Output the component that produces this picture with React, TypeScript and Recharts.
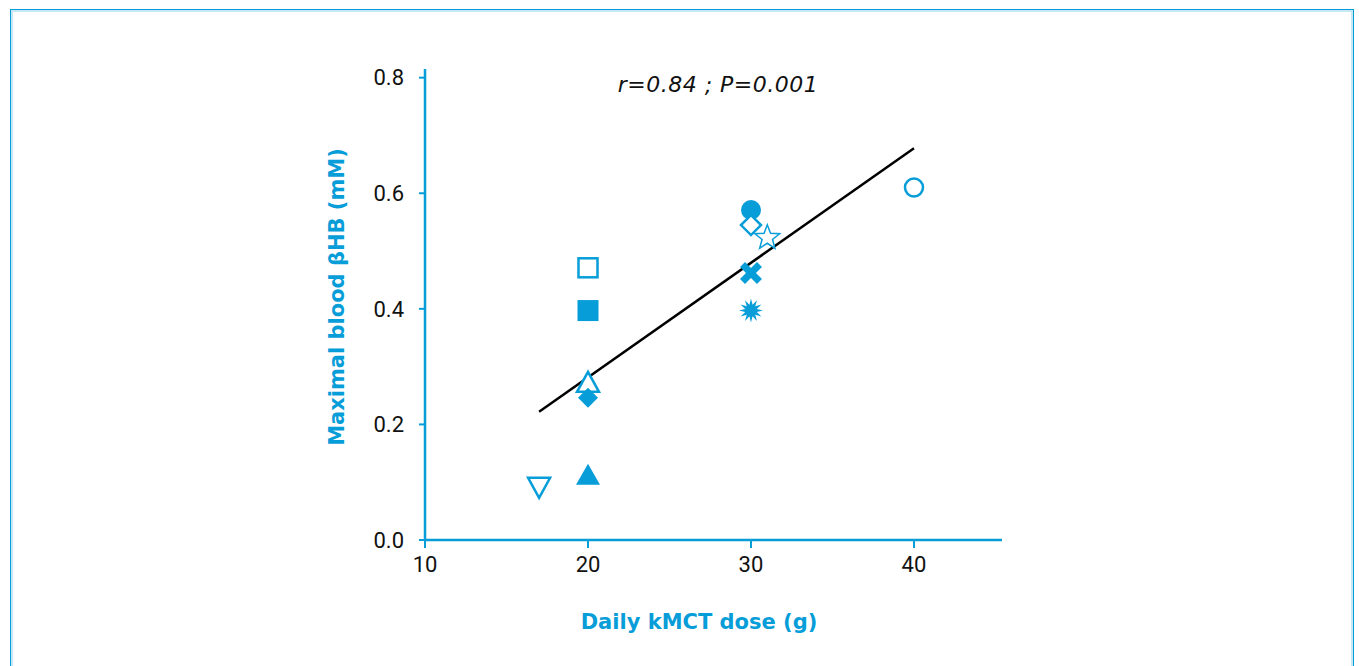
import { Label, Scatter, ScatterChart, XAxis, YAxis } from "recharts";

const BLUE = "#079dd8";
const TITLE_FONT = "'DejaVu Sans', Roboto, sans-serif";

// one entry per subject
const doses = [40, 30, 30, 31, 30, 30, 20, 20, 20, 20, 20, 17];
const bhb = [0.61, 0.571, 0.545, 0.523, 0.462, 0.397, 0.471, 0.397, 0.272, 0.246, 0.113, 0.092];
const markers = [
  "circleOpen",
  "circle",
  "diamondOpen",
  "starOpen",
  "cross",
  "burst",
  "squareOpen",
  "square",
  "triangleOpen",
  "diamond",
  "triangle",
  "triangleDownOpen",
];

// regression line end points
const fitDose = [17, 40];
const fitBhb = [0.222, 0.678];

const xTicks = [10, 20, 30, 40];
const yTicks = [0, 0.2, 0.4, 0.6, 0.8];

const points = doses.map((d, i) => ({ dose: d, bhb: bhb[i], marker: markers[i] }));
const fit = fitDose.map((d, i) => ({ dose: d, bhb: fitBhb[i] }));

const starPath = (cx: number, cy: number, n: number, ro: number, ri: number) => {
  const pts: string[] = [];
  for (let i = 0; i < n * 2; i++) {
    const r = i % 2 === 0 ? ro : ri;
    const a = -Math.PI / 2 + (i * Math.PI) / n;
    pts.push(`${cx + r * Math.cos(a)},${cy + r * Math.sin(a)}`);
  }
  return `M${pts.join("L")}Z`;
};

const Marker = (props: any) => {
  const { cx, cy, payload } = props;
  const open = { fill: "#fff", stroke: BLUE, strokeWidth: 2.5 };
  const solid = { fill: BLUE, stroke: "none" };
  switch (payload.marker) {
    case "circleOpen":
      return <circle cx={cx} cy={cy} r={9} {...open} />;
    case "circle":
      return <circle cx={cx} cy={cy} r={10} {...solid} />;
    case "squareOpen":
      return <rect x={cx - 9.5} y={cy - 9.5} width={19} height={19} {...open} />;
    case "square":
      return <rect x={cx - 10.5} y={cy - 10.5} width={21} height={21} {...solid} />;
    case "diamondOpen":
      return <path d={`M${cx},${cy - 10}L${cx + 10},${cy}L${cx},${cy + 10}L${cx - 10},${cy}Z`} {...open} />;
    case "diamond":
      return <path d={`M${cx},${cy - 10}L${cx + 10},${cy}L${cx},${cy + 10}L${cx - 10},${cy}Z`} {...solid} />;
    case "triangleOpen":
      return <path d={`M${cx},${cy - 11}L${cx + 11},${cy + 9}L${cx - 11},${cy + 9}Z`} {...open} />;
    case "triangle":
      return <path d={`M${cx},${cy - 11}L${cx + 12},${cy + 10}L${cx - 12},${cy + 10}Z`} {...solid} />;
    case "triangleDownOpen":
      return <path d={`M${cx},${cy + 11}L${cx + 11},${cy - 9}L${cx - 11},${cy - 9}Z`} {...open} />;
    case "starOpen":
      return <path d={starPath(cx, cy, 5, 13, 5.5)} fill="#fff" stroke={BLUE} strokeWidth={1.5} />;
    case "burst":
      return <path d={starPath(cx, cy, 12, 12, 6)} {...solid} />;
    case "cross":
      return (
        <g transform={`translate(${cx},${cy}) rotate(45)`}>
          <rect x={-12} y={-3.5} width={24} height={7} {...solid} />
          <rect x={-3.5} y={-12} width={7} height={24} {...solid} />
        </g>
      );
    default:
      return <circle cx={cx} cy={cy} r={8} {...solid} />;
  }
};

const App = () => {
  return (
    <div
      style={{
        position: "fixed",
        left: 0,
        top: 0,
        width: 1359,
        height: 666,
        overflow: "hidden",
        background: "#fff",
        fontFamily: "Roboto, sans-serif",
      }}
    >
      <div
        style={{
          position: "absolute",
          left: 10,
          top: 9,
          width: 1342,
          height: 700,
          border: `1px solid ${BLUE}`,
          boxShadow: "inset 0 0 0 2px #c6e8f6",
        }}
      />
      <ScatterChart
        width={1359}
        height={666}
        margin={{ top: 69, right: 357, bottom: 86, left: 345 }}
        style={{ position: "absolute", left: 0, top: 0 }}
      >
        <XAxis
          type="number"
          dataKey="dose"
          domain={[10, 45.4]}
          ticks={xTicks}
          allowDataOverflow
          height={40}
          axisLine={{ stroke: BLUE, strokeWidth: 2.5 }}
          tickLine={{ stroke: BLUE, strokeWidth: 2 }}
          tickSize={8}
          tickMargin={8}
          tick={{ fill: "#111", fontSize: 22 }}
        >
          <Label
            content={() => (
              <text
                x={699}
                y={629}
                textAnchor="middle"
                fill={BLUE}
                fontSize={21}
                fontWeight="bold"
                fontFamily={TITLE_FONT}
              >
                Daily kMCT dose (g)
              </text>
            )}
          />
        </XAxis>
        <YAxis
          type="number"
          dataKey="bhb"
          domain={[0, 0.815]}
          ticks={yTicks}
          allowDataOverflow
          width={80}
          axisLine={{ stroke: BLUE, strokeWidth: 2.5 }}
          tickLine={{ stroke: BLUE, strokeWidth: 2 }}
          tickSize={6}
          tickMargin={15}
          tick={{ fill: "#111", fontSize: 22 }}
          tickFormatter={(v: number) => v.toFixed(1)}
        >
          <Label
            content={() => (
              <text
                x={344}
                y={297}
                transform="rotate(-90 344 297)"
                textAnchor="middle"
                fill={BLUE}
                fontSize={21}
                fontWeight="bold"
                fontFamily={TITLE_FONT}
              >
                Maximal blood βHB (mM)
              </text>
            )}
          />
        </YAxis>
        <Scatter
          data={fit}
          line={{ stroke: "#000", strokeWidth: 2.5 }}
          shape={() => <g />}
          isAnimationActive={false}
        />
        <Scatter data={points} shape={Marker} isAnimationActive={false} />
      </ScatterChart>
      <svg
        width={1359}
        height={666}
        style={{ position: "absolute", left: 0, top: 0, pointerEvents: "none" }}
      >
        <text
          x={718}
          y={92}
          textAnchor="middle"
          fontSize={22}
          fontStyle="italic"
          fill="#111"
          fontFamily={TITLE_FONT}
          letterSpacing={0.5}
        >
          r=0.84 ; P=0.001
        </text>
      </svg>
    </div>
  );
};

export default App;
